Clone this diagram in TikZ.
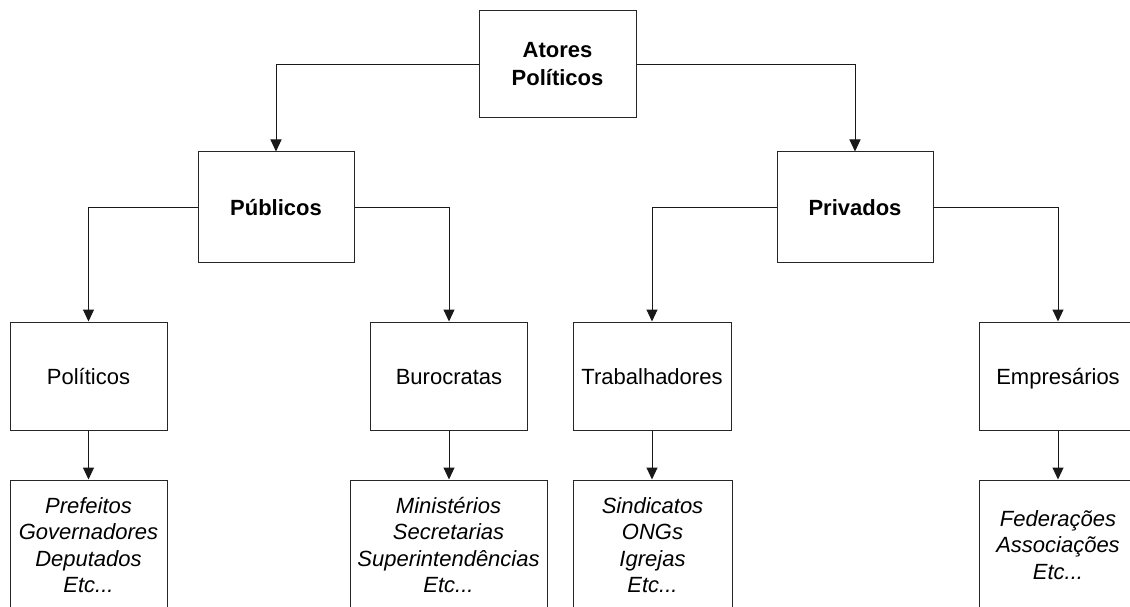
\documentclass[tikz,border=0pt]{standalone}
\usepackage{fontspec}
\setmainfont{Liberation Sans}
\usetikzlibrary{arrows.meta}
\begin{document}
\begin{tikzpicture}[x=1pt,y=-1pt,
  box/.style={draw=black!85,line width=1pt,fill=white,inner sep=0pt,align=center,
    font=\fontsize{22}{26.3}\selectfont},
  lvA/.style={box,minimum width=157pt,minimum height=107pt,font=\fontsize{22}{28}\selectfont\bfseries},
  lvB/.style={box,minimum width=156pt,minimum height=110pt,font=\fontsize{22}{26.3}\selectfont\bfseries,
    text height=16pt,text depth=0pt},
  lvC/.style={box,minimum width=157pt,minimum height=108pt,text height=16pt,text depth=0pt},
  lvD/.style={box,minimum height=130pt,font=\fontsize{22}{26.3}\selectfont\itshape},
  conn/.style={draw=black!90,line width=1pt,-{Triangle[width=11pt,length=12pt]}}]
\useasboundingbox (0,0) rectangle (1130,607);
\clip (0,0) rectangle (1130,607);
\fill[white] (0,0) rectangle (1130,607);
% level 1
\node[lvA] (top) at (557.5,64.5) {Atores\\Políticos};
% level 2
\node[lvB] (pub) at (276,207) {Públicos};
\node[lvB] (priv) at (855,207) {Privados};
% level 3
\node[lvC] (pol) at (88.5,376) {Políticos};
\node[lvC] (bur) at (449,376) {Burocratas};
\node[lvC,minimum width=158pt] (trab) at (652,376) {Trabalhadores};
\node[lvC,minimum width=158pt] (emp) at (1058,376) {Empresários};
% level 4
\node[lvD,minimum width=157pt] (pref) at (88.5,545) {Prefeitos\\Governadores\\Deputados\\Etc...};
\node[lvD,minimum width=197pt] (min) at (448.5,545) {Ministérios\\Secretarias\\Superintendências\\Etc...};
\node[lvD,minimum width=159pt] (sind) at (652.5,545) {Sindicatos\\ONGs\\Igrejas\\Etc...};
\node[lvD,minimum width=158pt] (fed) at (1058,545) {Federações\\Associações\\Etc...};
% connectors
\draw[conn] (top.west) -| (pub.north);
\draw[conn] (top.east) -| (priv.north);
\draw[conn] (pub.west) -| (pol.north);
\draw[conn] (pub.east) -| (bur.north);
\draw[conn] (priv.west) -| (trab.north);
\draw[conn] (priv.east) -| (emp.north);
\draw[conn] (pol.south) -- (pol.south |- pref.north);
\draw[conn] (bur.south) -- (bur.south |- min.north);
\draw[conn] (trab.south) -- (trab.south |- sind.north);
\draw[conn] (emp.south) -- (emp.south |- fed.north);
\end{tikzpicture}
\end{document}
